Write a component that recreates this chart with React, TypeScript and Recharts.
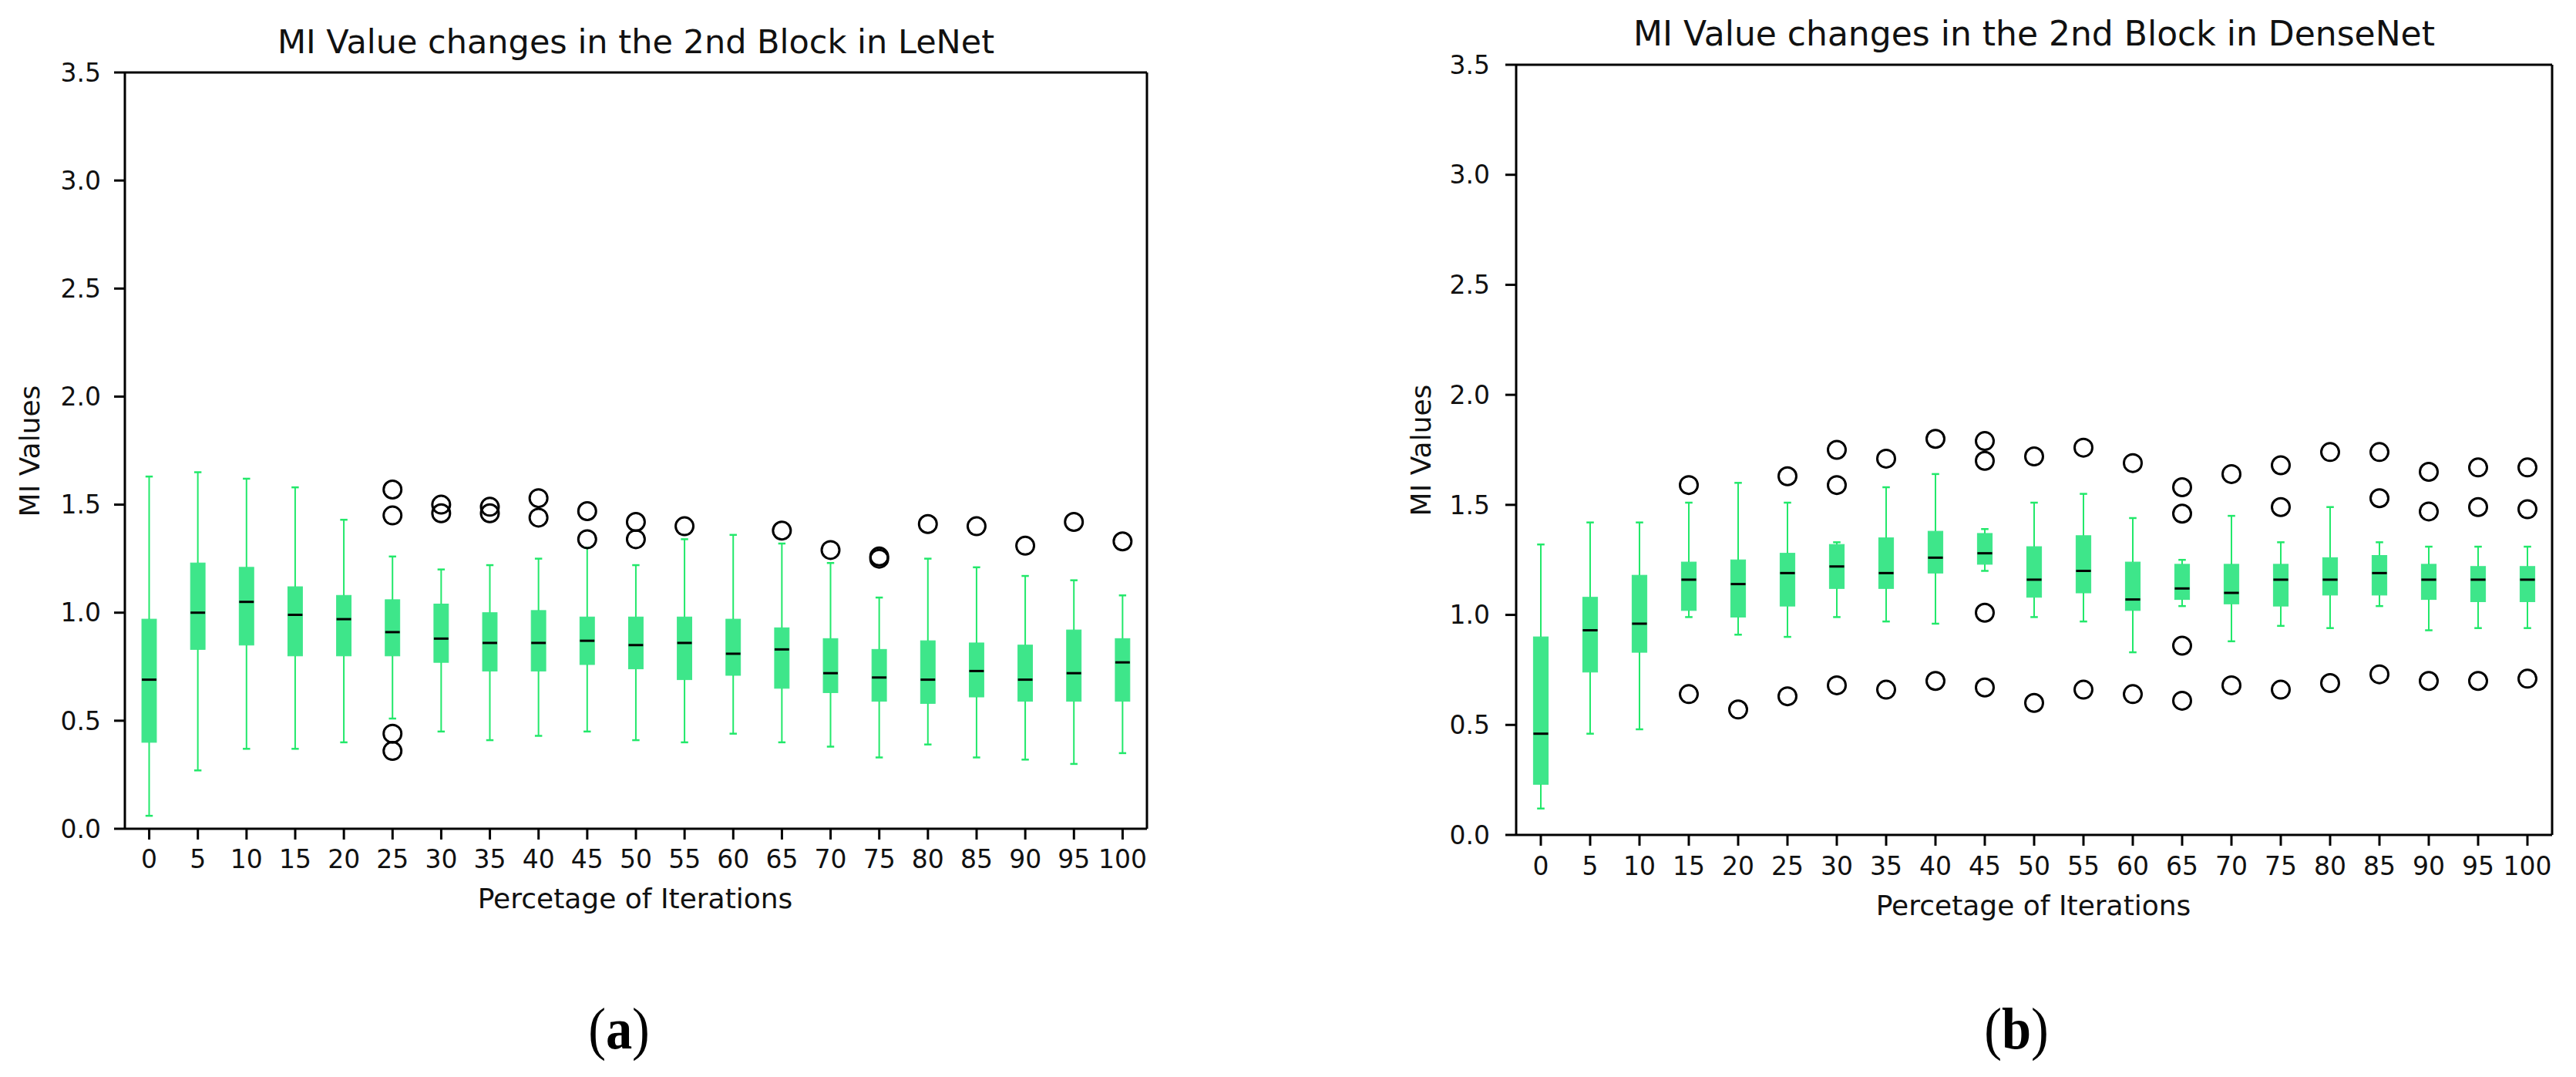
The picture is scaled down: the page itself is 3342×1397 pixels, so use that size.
import React from 'react';
import { ComposedChart, Bar, XAxis, YAxis, CartesianGrid } from 'recharts';

// ---------- data ----------
const iterations = ['0', '5', '10', '15', '20', '25', '30', '35', '40', '45', '50', '55', '60', '65', '70', '75', '80', '85', '90', '95', '100'];
const yTicks = [0, 0.5, 1.0, 1.5, 2.0, 2.5, 3.0, 3.5];

// LeNet (a)
const lenetWhiskerHigh = [1.63, 1.65, 1.62, 1.58, 1.43, 1.26, 1.20, 1.22, 1.25, 1.30, 1.22, 1.34, 1.36, 1.32, 1.23, 1.07, 1.25, 1.21, 1.17, 1.15, 1.08];
const lenetQ3 = [0.97, 1.23, 1.21, 1.12, 1.08, 1.06, 1.04, 1.00, 1.01, 0.98, 0.98, 0.98, 0.97, 0.93, 0.88, 0.83, 0.87, 0.86, 0.85, 0.92, 0.88];
const lenetMedian = [0.69, 1.00, 1.05, 0.99, 0.97, 0.91, 0.88, 0.86, 0.86, 0.87, 0.85, 0.86, 0.81, 0.83, 0.72, 0.70, 0.69, 0.73, 0.69, 0.72, 0.77];
const lenetQ1 = [0.40, 0.83, 0.85, 0.80, 0.80, 0.80, 0.77, 0.73, 0.73, 0.76, 0.74, 0.69, 0.71, 0.65, 0.63, 0.59, 0.58, 0.61, 0.59, 0.59, 0.59];
const lenetWhiskerLow = [0.06, 0.27, 0.37, 0.37, 0.40, 0.51, 0.45, 0.41, 0.43, 0.45, 0.41, 0.40, 0.44, 0.40, 0.38, 0.33, 0.39, 0.33, 0.32, 0.30, 0.35];
const lenetOutliers: number[][] = [
  [], [], [], [], [],
  [1.57, 1.45, 0.44, 0.36],
  [1.50, 1.46],
  [1.49, 1.46],
  [1.53, 1.44],
  [1.47, 1.34],
  [1.42, 1.34],
  [1.40],
  [],
  [1.38],
  [1.29],
  [1.26, 1.25],
  [1.41],
  [1.40],
  [1.31],
  [1.42],
  [1.33],
];

// DenseNet (b)
const densenetWhiskerHigh = [1.32, 1.42, 1.42, 1.51, 1.60, 1.51, 1.33, 1.58, 1.64, 1.39, 1.51, 1.55, 1.44, 1.25, 1.45, 1.33, 1.49, 1.33, 1.31, 1.31, 1.31];
const densenetQ3 = [0.90, 1.08, 1.18, 1.24, 1.25, 1.28, 1.32, 1.35, 1.38, 1.37, 1.31, 1.36, 1.24, 1.23, 1.23, 1.23, 1.26, 1.27, 1.23, 1.22, 1.22];
const densenetMedian = [0.46, 0.93, 0.96, 1.16, 1.14, 1.19, 1.22, 1.19, 1.26, 1.28, 1.16, 1.20, 1.07, 1.12, 1.10, 1.16, 1.16, 1.19, 1.16, 1.16, 1.16];
const densenetQ1 = [0.23, 0.74, 0.83, 1.02, 0.99, 1.04, 1.12, 1.12, 1.19, 1.23, 1.08, 1.10, 1.02, 1.07, 1.05, 1.04, 1.09, 1.09, 1.07, 1.06, 1.06];
const densenetWhiskerLow = [0.12, 0.46, 0.48, 0.99, 0.91, 0.90, 0.99, 0.97, 0.96, 1.20, 0.99, 0.97, 0.83, 1.04, 0.88, 0.95, 0.94, 1.04, 0.93, 0.94, 0.94];
const densenetOutliers: number[][] = [
  [], [], [],
  [1.59, 0.64],
  [0.57],
  [1.63, 0.63],
  [1.75, 1.59, 0.68],
  [1.71, 0.66],
  [1.80, 0.70],
  [1.79, 1.70, 1.01, 0.67],
  [1.72, 0.60],
  [1.76, 0.66],
  [1.69, 0.64],
  [1.58, 1.46, 0.86, 0.61],
  [1.64, 0.68],
  [1.68, 1.49, 0.66],
  [1.74, 0.69],
  [1.74, 1.53, 0.73],
  [1.65, 1.47, 0.70],
  [1.67, 1.49, 0.70],
  [1.67, 1.48, 0.71],
];

// ---------- styles ----------
const BOX_FILL = '#3ee68a';
const WHISKER = '#22e86a';
const FONT = 'DejaVu Sans, Verdana, sans-serif';

type Row = {
  label: string;
  range: [number, number];
  wLow: number;
  q1: number;
  median: number;
  q3: number;
  wHigh: number;
  outliers: number[];
};

function buildRows(wLow: number[], q1: number[], med: number[], q3: number[], wHigh: number[], outs: number[][]): Row[] {
  return iterations.map((label, i) => {
    const all = [wLow[i], wHigh[i], ...outs[i]];
    return {
      label,
      range: [Math.min(...all), Math.max(...all)] as [number, number],
      wLow: wLow[i],
      q1: q1[i],
      median: med[i],
      q3: q3[i],
      wHigh: wHigh[i],
      outliers: outs[i],
    };
  });
}

const lenetRows = buildRows(lenetWhiskerLow, lenetQ1, lenetMedian, lenetQ3, lenetWhiskerHigh, lenetOutliers);
const densenetRows = buildRows(densenetWhiskerLow, densenetQ1, densenetMedian, densenetQ3, densenetWhiskerHigh, densenetOutliers);

const BoxShape = (props: any) => {
  const { x, y, width, height, payload } = props;
  if (!payload || x == null || y == null) return null;
  const [lo, hi] = payload.range as [number, number];
  const top = Math.min(y, y + height);
  const bottom = Math.max(y, y + height);
  const span = hi - lo;
  const py = (v: number) => (span === 0 ? top : top + ((hi - v) / span) * (bottom - top));
  const cx = x + width / 2;
  const bw = width * 0.3;
  const cw = bw * 0.5;
  return (
    <g>
      <rect x={cx - bw / 2} y={py(payload.q3)} width={bw} height={py(payload.q1) - py(payload.q3)} fill={BOX_FILL} stroke={BOX_FILL} strokeWidth={1} />
      <line x1={cx} x2={cx} y1={py(payload.q3)} y2={py(payload.wHigh)} stroke={WHISKER} strokeWidth={2} />
      <line x1={cx} x2={cx} y1={py(payload.q1)} y2={py(payload.wLow)} stroke={WHISKER} strokeWidth={2} />
      <line x1={cx - cw / 2} x2={cx + cw / 2} y1={py(payload.wHigh)} y2={py(payload.wHigh)} stroke={WHISKER} strokeWidth={2.5} />
      <line x1={cx - cw / 2} x2={cx + cw / 2} y1={py(payload.wLow)} y2={py(payload.wLow)} stroke={WHISKER} strokeWidth={2.5} />
      <line x1={cx - bw / 2} x2={cx + bw / 2} y1={py(payload.median)} y2={py(payload.median)} stroke="#000" strokeWidth={3} />
      {payload.outliers.map((v: number, k: number) => (
        <ellipse key={k} cx={cx} cy={py(v)} rx={11.5} ry={11.5} fill="none" stroke="#000" strokeWidth={3} />
      ))}
    </g>
  );
};

type PanelProps = {
  rows: Row[];
  left: number;
  width: number;
  margin: { top: number; right: number; bottom: number; left: number };
  xTickMargin: number;
  yTickMargin: number;
};

const topEdge = (args: any) => [args.offset.top];
const rightEdge = (args: any) => [args.offset.left + args.offset.width];

const Panel = ({ rows, left, width, margin, xTickMargin, yTickMargin }: PanelProps) => (
  <div style={{ position: 'absolute', left, top: 0 }}>
    <ComposedChart width={width} height={1397} data={rows} margin={margin} barCategoryGap="0%" barGap={0}>
      <CartesianGrid
        stroke="#000"
        strokeWidth={3}
        horizontalCoordinatesGenerator={topEdge}
        verticalCoordinatesGenerator={rightEdge}
      />
      <XAxis
        dataKey="label"
        type="category"
        interval={0}
        tickSize={14}
        tickMargin={xTickMargin}
        axisLine={{ stroke: '#000', strokeWidth: 3 }}
        tickLine={{ stroke: '#000', strokeWidth: 3 }}
        tick={{ fill: '#111', fontSize: 33, fontFamily: FONT }}
        height={60}
      />
      <YAxis
        type="number"
        domain={[0, 3.5]}
        ticks={yTicks}
        allowDataOverflow
        tickFormatter={(v: number) => v.toFixed(1)}
        tickSize={14}
        tickMargin={yTickMargin}
        axisLine={{ stroke: '#000', strokeWidth: 3 }}
        tickLine={{ stroke: '#000', strokeWidth: 3 }}
        tick={{ fill: '#111', fontSize: 33, fontFamily: FONT }}
        width={100}
      />
      <Bar dataKey="range" shape={BoxShape} isAnimationActive={false} />
    </ComposedChart>
  </div>
);

export default function App() {
  return (
    <div style={{ position: 'absolute', left: 0, top: 0, width: 3342, height: 1397, background: '#fff', overflow: 'hidden' }}>
      <Panel rows={lenetRows} left={0} width={1700} margin={{ top: 94, right: 212, bottom: 262, left: 62 }} xTickMargin={14} yTickMargin={17} />
      <Panel rows={densenetRows} left={1700} width={1642} margin={{ top: 84, right: 31, bottom: 254, left: 167 }} xTickMargin={15} yTickMargin={20} />
      <svg width={3342} height={1397} style={{ position: 'absolute', left: 0, top: 0, pointerEvents: 'none' }}>
        <g fontFamily={FONT} fill="#111">
          <text x={825} y={69} fontSize={43} textAnchor="middle">MI Value changes in the 2nd Block in LeNet</text>
          <text x={2639} y={59} fontSize={44} textAnchor="middle">MI Value changes in the 2nd Block in DenseNet</text>
          <text x={824} y={1178} fontSize={36} textAnchor="middle">Percetage of Iterations</text>
          <text x={2638} y={1187} fontSize={36} textAnchor="middle">Percetage of Iterations</text>
          <text transform="translate(51,585) rotate(-90)" fontSize={36} textAnchor="middle">MI Values</text>
          <text transform="translate(1856,584) rotate(-90)" fontSize={36} textAnchor="middle">MI Values</text>
        </g>
        <g fontFamily="Liberation Serif, Times New Roman, serif" fill="#000">
          <text transform="translate(803,1360) scale(0.9,1)" fontSize={76} textAnchor="middle">
            <tspan>(</tspan><tspan fontWeight="bold">a</tspan><tspan>)</tspan>
          </text>
          <text transform="translate(2616,1360) scale(0.9,1)" fontSize={76} textAnchor="middle">
            <tspan>(</tspan><tspan fontWeight="bold">b</tspan><tspan>)</tspan>
          </text>
        </g>
      </svg>
    </div>
  );
}
